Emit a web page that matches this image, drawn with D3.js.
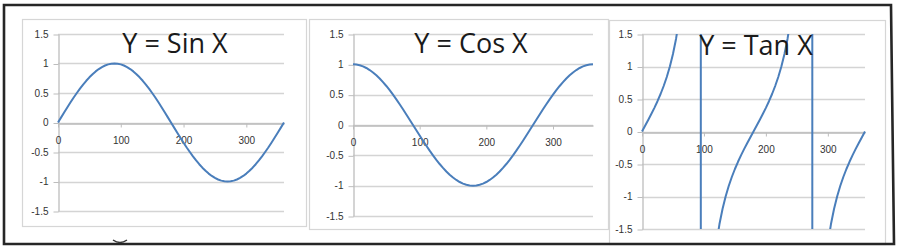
<!DOCTYPE html>
<html>
<head>
<meta charset="utf-8">
<script src="https://cdn.jsdelivr.net/npm/d3@7"></script>
<style>
  html, body { margin: 0; padding: 0; background: #fff; }
  svg { display: block; }
</style>
</head>
<body>
<svg id="chart" width="900" height="251"></svg>
<script>
// ---- data (degrees) ----
const xDegrees = [0,5,10,15,20,25,30,35,40,45,50,55,60,65,70,75,80,85,90,
  95,100,105,110,115,120,125,130,135,140,145,150,155,160,165,170,175,180,
  185,190,195,200,205,210,215,220,225,230,235,240,245,250,255,260,265,270,
  275,280,285,290,295,300,305,310,315,320,325,330,335,340,345,350,355,360];

const sinValues = [0,0.087,0.174,0.259,0.342,0.423,0.5,0.574,0.643,0.707,0.766,0.819,0.866,0.906,0.94,0.966,0.985,0.996,1,
  0.996,0.985,0.966,0.94,0.906,0.866,0.819,0.766,0.707,0.643,0.574,0.5,0.423,0.342,0.259,0.174,0.087,0,
  -0.087,-0.174,-0.259,-0.342,-0.423,-0.5,-0.574,-0.643,-0.707,-0.766,-0.819,-0.866,-0.906,-0.94,-0.966,-0.985,-0.996,-1,
  -0.996,-0.985,-0.966,-0.94,-0.906,-0.866,-0.819,-0.766,-0.707,-0.643,-0.574,-0.5,-0.423,-0.342,-0.259,-0.174,-0.087,0];

const cosValues = [1,0.996,0.985,0.966,0.94,0.906,0.866,0.819,0.766,0.707,0.643,0.574,0.5,0.423,0.342,0.259,0.174,0.087,0,
  -0.087,-0.174,-0.259,-0.342,-0.423,-0.5,-0.574,-0.643,-0.707,-0.766,-0.819,-0.866,-0.906,-0.94,-0.966,-0.985,-0.996,-1,
  -0.996,-0.985,-0.966,-0.94,-0.906,-0.866,-0.819,-0.766,-0.707,-0.643,-0.574,-0.5,-0.423,-0.342,-0.259,-0.174,-0.087,0,
  0.087,0.174,0.259,0.342,0.423,0.5,0.574,0.643,0.707,0.766,0.819,0.866,0.906,0.94,0.966,0.985,0.996,1];

const tanValues = [0,0.087,0.176,0.268,0.364,0.466,0.577,0.7,0.839,1,1.192,1.428,1.732,2.145,2.747,3.732,5.671,11.43,1.633e16,
  -11.43,-5.671,-3.732,-2.747,-2.145,-1.732,-1.428,-1.192,-1,-0.839,-0.7,-0.577,-0.466,-0.364,-0.268,-0.176,-0.087,0,
  0.087,0.176,0.268,0.364,0.466,0.577,0.7,0.839,1,1.192,1.428,1.732,2.145,2.747,3.732,5.671,11.43,5.444e15,
  -11.43,-5.671,-3.732,-2.747,-2.145,-1.732,-1.428,-1.192,-1,-0.839,-0.7,-0.577,-0.466,-0.364,-0.268,-0.176,-0.087,0];

const titles = ["Y = Sin X", "Y = Cos X", "Y = Tan X"];
const yTickValues = [-1.5, -1, -0.5, 0, 0.5, 1, 1.5];
const yTickLabels = ["-1.5", "-1", "-0.5", "0", "0.5", "1", "1.5"];
const xTickValues = [0, 100, 200, 300];
const xTickLabels = ["0", "100", "200", "300"];

// ---- layout ----
const panels = [
  { title: titles[0], values: sinValues, box: [22, 19, 306, 226], plot: { x0: 58, x1: 284, yTop: 34, yBot: 211 }, tx: 175, ty: 53, ts: 27 },
  { title: titles[1], values: cosValues, box: [309, 19, 608, 229], plot: { x0: 353, x1: 593, yTop: 34, yBot: 216 }, tx: 471, ty: 53, ts: 27 },
  { title: titles[2], values: tanValues, box: [609, 20, 885, 244], plot: { x0: 642, x1: 865, yTop: 34, yBot: 229 }, tx: 756, ty: 55, ts: 27 }
];

const svg = d3.select("#chart");
const lineColor = "#4a7ebb";
const gridColor = "#d4d4d4";
const axisColor = "#bdbdbd";
const labelColor = "#333";

panels.forEach((p, i) => {
  const g = svg.append("g");
  const [bx0, by0, bx1, by1] = p.box;
  g.append("rect")
    .attr("x", bx0 + 0.5).attr("y", by0 + 0.5)
    .attr("width", bx1 - bx0).attr("height", by1 - by0)
    .attr("fill", "#fff").attr("stroke", "#d6d6d6").attr("stroke-width", 1.2);

  const x = d3.scaleLinear().domain([0, 360]).range([p.plot.x0, p.plot.x1]);
  const y = d3.scaleLinear().domain([-1.5, 1.5]).range([p.plot.yBot, p.plot.yTop]);

  // gridlines
  g.append("g").selectAll("line").data(yTickValues).join("line")
    .attr("x1", p.plot.x0).attr("x2", p.plot.x1)
    .attr("y1", d => Math.round(y(d)) + 0.5).attr("y2", d => Math.round(y(d)) + 0.5)
    .attr("stroke", gridColor).attr("stroke-width", 1.3);

  // y axis (labels + outward ticks)
  const yAxis = d3.axisLeft(y).tickValues(yTickValues)
    .tickFormat((d, k) => yTickLabels[k]).tickSize(5).tickSizeOuter(0).tickPadding(5);
  const ya = g.append("g").attr("transform", `translate(${p.plot.x0 + 0.5},0)`).call(yAxis);
  ya.select(".domain").attr("stroke", axisColor).attr("stroke-width", 1.3);
  ya.selectAll(".tick line").attr("stroke", axisColor).attr("transform", "translate(0,0.5)");
  ya.selectAll(".tick text").attr("fill", labelColor)
    .style("font-family", "'Liberation Sans', Arial, sans-serif").style("font-size", "10px");

  // x axis at zero
  const xAxis = d3.axisBottom(x).tickValues(xTickValues)
    .tickFormat((d, k) => xTickLabels[k]).tickSize(4).tickSizeOuter(0).tickPadding(9);
  const xa = g.append("g").attr("transform", `translate(0,${Math.round(y(0)) + 0.5})`).call(xAxis);
  xa.select(".domain").attr("stroke", axisColor).attr("stroke-width", 1.3);
  xa.selectAll(".tick line").attr("stroke", axisColor);
  xa.selectAll(".tick text").attr("fill", labelColor)
    .style("font-family", "'Liberation Sans', Arial, sans-serif").style("font-size", "10px");

  // clip for the curve
  const clipId = "clip" + i;
  svg.append("defs").append("clipPath").attr("id", clipId)
    .append("rect").attr("x", p.plot.x0 - 2).attr("y", p.plot.yTop)
    .attr("width", p.plot.x1 - p.plot.x0 + 4).attr("height", p.plot.yBot - p.plot.yTop);

  const data = xDegrees.map((d, k) => ({ x: d, y: p.values[k] }));
  // keep the huge asymptote values finite for the renderer
  const safe = v => Math.max(-1000, Math.min(1000, v));
  const line = d3.line().x(d => x(d.x)).y(d => y(safe(d.y)));
  g.append("path").datum(data)
    .attr("clip-path", `url(#${clipId})`)
    .attr("d", line)
    .attr("fill", "none").attr("stroke", lineColor).attr("stroke-width", 2)
    .attr("stroke-linejoin", "round");

  // title
  g.append("text").attr("x", p.tx).attr("y", p.ty)
    .attr("text-anchor", "middle")
    .style("font-family", "'Open Sans', 'Noto Sans', sans-serif")
    .style("font-size", p.ts + "px")
    .attr("fill", "#1a1a1a")
    .text(p.title);
});

// outer frame (slightly skewed as in the scan)
svg.append("path")
  .attr("d", "M4,5 L891,5 L894,244 L4,244 Z")
  .attr("fill", "none").attr("stroke", "#262626").attr("stroke-width", 2.6);

// small scan mark on the bottom border
svg.append("path")
  .attr("d", "M113,240 Q120,245 127,240")
  .attr("fill", "none").attr("stroke", "#333").attr("stroke-width", 1.5);
</script>
</body>
</html>
